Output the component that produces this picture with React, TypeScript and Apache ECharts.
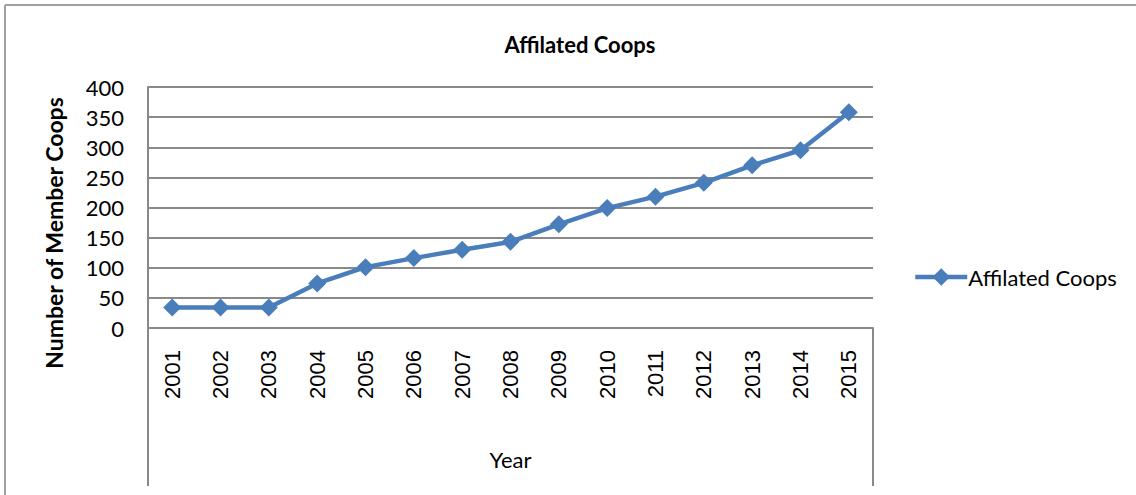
import React, { useEffect, useRef } from "react";
import * as echarts from "echarts";

const years = ["2001","2002","2003","2004","2005","2006","2007","2008","2009","2010","2011","2012","2013","2014","2015"];
const coops = [34, 34, 34, 74, 101, 116, 130, 143, 172, 199, 218, 241, 270, 295, 358];
const seriesName = "Affilated Coops";
const chartTitle = "Affilated Coops";
const yTitle = "Number of Member Coops";
const xTitle = "Year";

const BLUE = "#4A7EBB";
const GRAY = "#898989";
const SANS = "Lato, 'Open Sans', sans-serif";

export default function App() {
  const ref = useRef<HTMLDivElement>(null);
  useEffect(() => {
    if (!ref.current) return;
    const chart = echarts.init(ref.current, null, { renderer: "svg" });
    chart.setOption({
      animation: false,
      backgroundColor: "#fff",
      title: {
        text: chartTitle,
        left: 575,
        textAlign: "center",
        top: 28,
        textStyle: { fontFamily: SANS, fontWeight: "bold", fontSize: 22, color: "#000" },
      },
      grid: { left: 148, right: 263, top: 87, bottom: 167 },
      legend: {
        left: 908,
        top: 261,
        itemWidth: 52,
        itemHeight: 22,
        itemGap: 2,
        lineStyle: { width: 4.5, color: BLUE },
        itemStyle: { color: BLUE },
        textStyle: { fontFamily: SANS, fontSize: 22, color: "#000", padding: [0, 0, 0, -4] },
        data: [seriesName],
      },
      xAxis: {
        type: "category",
        data: years,
        boundaryGap: true,
        name: xTitle,
        nameLocation: "middle",
        nameGap: 120,
        nameTextStyle: { fontFamily: SANS, fontSize: 22, color: "#000" },
        axisLine: { show: true, lineStyle: { color: GRAY, width: 2 } },
        axisTick: { show: false },
        axisLabel: {
          rotate: 90,
          margin: 22,
          fontFamily: "'Liberation Sans', Arial, sans-serif",
          fontSize: 22,
          color: "#000",
        },
      },
      yAxis: {
        type: "value",
        min: 0,
        max: 400,
        interval: 50,
        axisLine: { show: true, lineStyle: { color: GRAY, width: 2 } },
        axisTick: { show: false },
        splitLine: { show: true, lineStyle: { color: GRAY, width: 2 } },
        axisLabel: { margin: 24, fontFamily: SANS, fontSize: 22, color: "#000" },
      },
      graphic: [
        { type: "line", shape: { x1: 5, y1: 5, x2: 1136, y2: 5 }, style: { stroke: "#a0a0a0", lineWidth: 2 } },
        { type: "line", shape: { x1: 5, y1: 5, x2: 5, y2: 495 }, style: { stroke: "#a0a0a0", lineWidth: 2 } },
        { type: "line", shape: { x1: 148, y1: 328, x2: 148, y2: 486 }, style: { stroke: GRAY, lineWidth: 2 } },
        { type: "line", shape: { x1: 873, y1: 328, x2: 873, y2: 486 }, style: { stroke: GRAY, lineWidth: 2 } },
        {
          type: "text",
          x: 54,
          y: 233,
          rotation: Math.PI / 2,
          style: {
            text: yTitle,
            align: "center",
            verticalAlign: "middle",
            fontFamily: SANS,
            fontWeight: "bold",
            fontSize: 23,
            fill: "#000",
          },
        },
      ],
      series: [
        {
          name: seriesName,
          type: "line",
          data: coops,
          symbol: "diamond",
          symbolSize: 18,
          lineStyle: { color: BLUE, width: 4.5 },
          itemStyle: { color: BLUE },
        },
      ],
    });
    return () => chart.dispose();
  }, []);
  return <div ref={ref} style={{ width: 1136, height: 495, position: "absolute", left: 0, top: 0 }} />;
}
